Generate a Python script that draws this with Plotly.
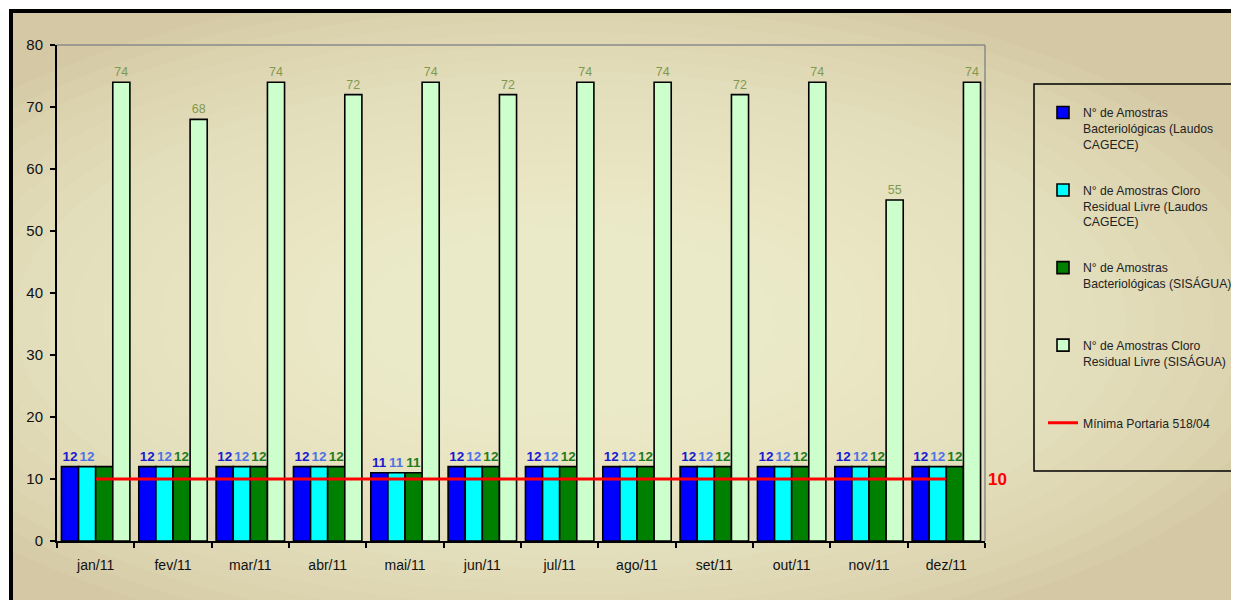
import plotly.graph_objects as go

# ---------------- data ----------------
months = ["jan/11", "fev/11", "mar/11", "abr/11", "mai/11", "jun/11",
          "jul/11", "ago/11", "set/11", "out/11", "nov/11", "dez/11"]
bact_cagece = [12, 12, 12, 12, 11, 12, 12, 12, 12, 12, 12, 12]
cloro_cagece = [12, 12, 12, 12, 11, 12, 12, 12, 12, 12, 12, 12]
bact_sisagua = [12, 12, 12, 12, 11, 12, 12, 12, 12, 12, 12, 12]
cloro_sisagua = [74, 68, 74, 72, 74, 72, 74, 74, 72, 74, 55, 74]
minimo = [10, 10, 10, 10, 10, 10, 10, 10, 10, 10, 10, 10]
hidden_green_labels = ["jan/11"]

names = [
    "N° de Amostras<br>Bacteriológicas (Laudos<br>CAGECE)",
    "N° de Amostras Cloro<br>Residual Livre (Laudos<br>CAGECE)",
    "N° de Amostras<br>Bacteriológicas (SISÁGUA)<br> ",
    "N° de Amostras Cloro<br>Residual Livre (SISÁGUA)<br> ",
    "Mínima Portaria 518/04",
]

# ---------------- geometry helpers (page pixel coords) ----------------
PAGE_OFF = 8            # browser body margin
W, H = 1239 - PAGE_OFF, 600 - PAGE_OFF
L, R, T, B = 57, 985, 45, 541   # plot area in page pixels


def fx(px):
    return (px - L) / (R - L)


def fy(py):
    return (B - py) / (B - T)


FONT = "Liberation Sans, Arial, sans-serif"

fig = go.Figure()

bar_common = dict(marker_line_color="black", marker_line_width=1.6,
                  textposition="outside", cliponaxis=False,
                  constraintext="none")

fig.add_trace(go.Bar(
    x=months, y=bact_cagece, name=names[0], legendgroup="a",
    marker_color="#0000ff", text=[str(v) for v in bact_cagece],
    textfont=dict(color="#1a1ad0", size=13.5, family=FONT, weight="bold"),
    **bar_common))
fig.add_trace(go.Bar(
    x=months, y=cloro_cagece, name=names[1], legendgroup="b",
    marker_color="#00ffff", text=[str(v) for v in cloro_cagece],
    textfont=dict(color="#4f72e6", size=13.5, family=FONT, weight="bold"),
    **bar_common))
fig.add_trace(go.Bar(
    x=months, y=bact_sisagua, name=names[2], legendgroup="c",
    marker_color="#008000",
    text=["" if m in hidden_green_labels else str(v)
          for m, v in zip(months, bact_sisagua)],
    textfont=dict(color="#1e7d1e", size=13.5, family=FONT, weight="bold"),
    **bar_common))
fig.add_trace(go.Bar(
    x=months, y=cloro_sisagua, name=names[3], legendgroup="d",
    marker_color="#ccffcc", text=[str(v) for v in cloro_sisagua],
    textfont=dict(color="#7f9a4f", size=12.5, family=FONT),
    **bar_common))
fig.add_trace(go.Scatter(
    x=months, y=minimo, name=names[4], legendgroup="e", mode="lines",
    line=dict(color="#ff0000", width=3), cliponaxis=False))

# ---------------- background shapes ----------------
shapes = []
shapes.append(dict(type="rect", xref="paper", yref="paper", layer="below",
                   x0=fx(11), x1=fx(1300), y0=fy(660), y1=fy(11),
                   fillcolor="#d5c8a4", line=dict(width=0)))
cx, cy = 570, 320
steps = 26
for i in range(steps):
    f = 1 - i / steps
    rx, ry = 760 * f, 340 * f
    shapes.append(dict(type="circle", xref="paper", yref="paper", layer="below",
                       x0=fx(cx - rx), x1=fx(cx + rx),
                       y0=fy(cy + ry), y1=fy(cy - ry),
                       fillcolor="rgba(249,240,216,0.09)", line=dict(width=0)))
# outer frame
shapes.append(dict(type="rect", xref="paper", yref="paper", layer="below",
                   x0=fx(11), x1=fx(1300), y0=fy(660), y1=fy(11),
                   fillcolor="rgba(0,0,0,0)", line=dict(color="black", width=4)))
# plot-area grey border (top and right)
shapes.append(dict(type="line", xref="paper", yref="paper", x0=0, x1=1, y0=1, y1=1,
                   line=dict(color="#8a8a8a", width=1.5)))
shapes.append(dict(type="line", xref="paper", yref="paper", x0=1, x1=1, y0=0, y1=1,
                   line=dict(color="#8a8a8a", width=1.5)))
# legend box
shapes.append(dict(type="rect", xref="paper", yref="paper",
                   x0=fx(1034), x1=fx(1237), y0=fy(471), y1=fy(84),
                   fillcolor="rgba(0,0,0,0)", line=dict(color="black", width=1.5)))

fig.update_layout(
    width=W, height=H,
    margin=dict(l=L - PAGE_OFF, r=W - (R - PAGE_OFF), t=T - PAGE_OFF,
                b=H - (B - PAGE_OFF), pad=0, autoexpand=False),
    paper_bgcolor="white",
    plot_bgcolor="rgba(0,0,0,0)",
    barmode="group", bargap=0.115, bargroupgap=0,
    font=dict(family=FONT, color="#111111"),
    shapes=shapes,
    showlegend=True,
    legend=dict(x=fx(1043), y=fy(98), xanchor="left", yanchor="top",
                valign="top", traceorder="grouped", tracegroupgap=27,
                bgcolor="rgba(0,0,0,0)", borderwidth=0,
                font=dict(family=FONT, size=12.2, color="#222222")),
    annotations=[dict(x=fx(1009), y=10, xref="paper", yref="y",
                      text="<b>10</b>", showarrow=False,
                      font=dict(color="#ff0000", size=17, family=FONT))],
)

fig.update_xaxes(
    type="category", showgrid=False, showline=True, linecolor="black", linewidth=2,
    ticks="outside", ticklen=5, tickcolor="black", tickwidth=1.5,
    tickson="boundaries", ticklabelstandoff=10,
    tickfont=dict(size=14, family=FONT, color="#111111"))
fig.update_yaxes(
    range=[0, 80], dtick=10, showgrid=False, zeroline=False,
    showline=True, linecolor="black", linewidth=2,
    ticks="outside", ticklen=5, tickcolor="black", tickwidth=1.5,
    ticklabelstandoff=4,
    tickfont=dict(size=15, family=FONT, color="#111111"))

fig.write_html("out.html")
